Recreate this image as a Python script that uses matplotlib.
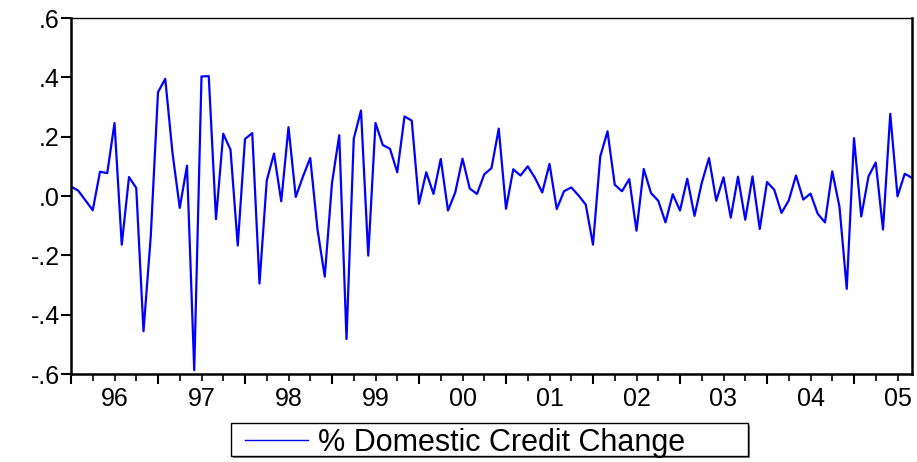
import numpy as np
import matplotlib
matplotlib.use("Agg")
import matplotlib.pyplot as plt
import matplotlib.transforms as mtransforms
from matplotlib.patches import Rectangle
from matplotlib.lines import Line2D
from matplotlib.ticker import FixedLocator, NullFormatter

# Monthly % change in domestic credit, 1996m1 .. 2005m9
values = [
    0.032, 0.018, -0.015, -0.048, 0.082, 0.077, 0.246, -0.164, 0.064, 0.027, -0.456, -0.136,   # 1996
    0.350, 0.395, 0.145, -0.040, 0.102, -0.587, 0.403, 0.404, -0.078, 0.210, 0.156, -0.167,    # 1997
    0.192, 0.212, -0.295, 0.052, 0.143, -0.018, 0.232, -0.003, 0.066, 0.128, -0.113, -0.272,   # 1998
    0.044, 0.205, -0.482, 0.193, 0.288, -0.201, 0.246, 0.172, 0.159, 0.080, 0.268, 0.254,     # 1999
    -0.026, 0.080, 0.007, 0.125, -0.049, 0.012, 0.126, 0.025, 0.007, 0.073, 0.094, 0.227,     # 2000
    -0.043, 0.090, 0.069, 0.100, 0.061, 0.012, 0.108, -0.044, 0.016, 0.029, 0.002, -0.029,    # 2001
    -0.164, 0.133, 0.218, 0.038, 0.016, 0.057, -0.117, 0.091, 0.010, -0.016, -0.089, 0.006,   # 2002
    -0.049, 0.058, -0.067, 0.044, 0.128, -0.016, 0.063, -0.073, 0.065, -0.080, 0.066, -0.111, # 2003
    0.047, 0.021, -0.057, -0.015, 0.069, -0.012, 0.008, -0.060, -0.089, 0.083, -0.037, -0.313, # 2004
    0.195, -0.069, 0.066, 0.113, -0.113, 0.277, -0.001, 0.075, 0.061,                          # 2005
]
year_labels = ["96", "97", "98", "99", "00", "01", "02", "03", "04", "05"]
y_ticks = [-0.6, -0.4, -0.2, 0.0, 0.2, 0.4, 0.6]
y_tick_labels = ["-.6", "-.4", "-.2", ".0", ".2", ".4", ".6"]
series_name = "% Domestic Credit Change"

plt.rcParams['font.family'] = ['Liberation Sans', 'DejaVu Sans']

W, H = 917, 462
fig = plt.figure(figsize=(W / 100, H / 100), dpi=100)
ax = fig.add_axes([71 / W, 1 - 374 / H, 841 / W, 356 / H])

x = np.arange(len(values))
line, = ax.plot(x, values, color="#0000ff", lw=1.6, label=series_name)

ax.set_xlim(0, len(values) - 1)
ax.set_ylim(-0.6, 0.6)

ax.set_yticks(y_ticks)
ax.set_yticklabels(y_tick_labels, fontsize=18)

year_starts = [12 * i for i in range(len(year_labels))]
quarters = [q for q in range(0, len(values), 3) if q % 12 != 0]
ax.xaxis.set_major_locator(FixedLocator(year_starts))
ax.xaxis.set_major_formatter(NullFormatter())
ax.xaxis.set_minor_locator(FixedLocator(quarters))
ax.xaxis.set_minor_formatter(NullFormatter())
ax.tick_params(axis='x', which='major', length=7, width=1.5, direction='out')
ax.tick_params(axis='x', which='minor', length=5, width=1.2, direction='out')
ax.tick_params(axis='y', which='major', length=7, width=1.5, direction='out', pad=1)

offset = mtransforms.ScaledTranslation(0, -13 / 100, fig.dpi_scale_trans)
for i, lab in enumerate(year_labels):
    ax.text(12 * i + 6, -0.6, lab, transform=ax.transData + offset,
            ha='center', va='top', fontsize=18, clip_on=False)

for side in ['left', 'bottom', 'right']:
    ax.spines[side].set_linewidth(1.8)
ax.spines['top'].set_linewidth(1.0)

# Legend box (EViews style, with a small shadow)
def fx(px):
    return px / W

def fy(py):
    return 1 - py / H

box_l, box_r, box_t, box_b = 231, 748, 423, 456
fig.patches.append(Rectangle((fx(box_l + 2), fy(box_b + 2)), fx(box_r - box_l), (box_b - box_t) / H,
                             transform=fig.transFigure, facecolor='#808080', edgecolor='none', zorder=1))
fig.patches.append(Rectangle((fx(box_l), fy(box_b)), fx(box_r - box_l), (box_b - box_t) / H,
                             transform=fig.transFigure, facecolor='white', edgecolor='black',
                             linewidth=1.0, zorder=2))
fig.lines.append(Line2D([fx(245), fx(308)], [fy(440), fy(440)], transform=fig.transFigure,
                        color=line.get_color(), linewidth=1.0, zorder=3))
fig.text(fx(318), fy(440), series_name, fontsize=22, ha='left', va='center_baseline', zorder=3)

fig.savefig("out.png", dpi=100)
